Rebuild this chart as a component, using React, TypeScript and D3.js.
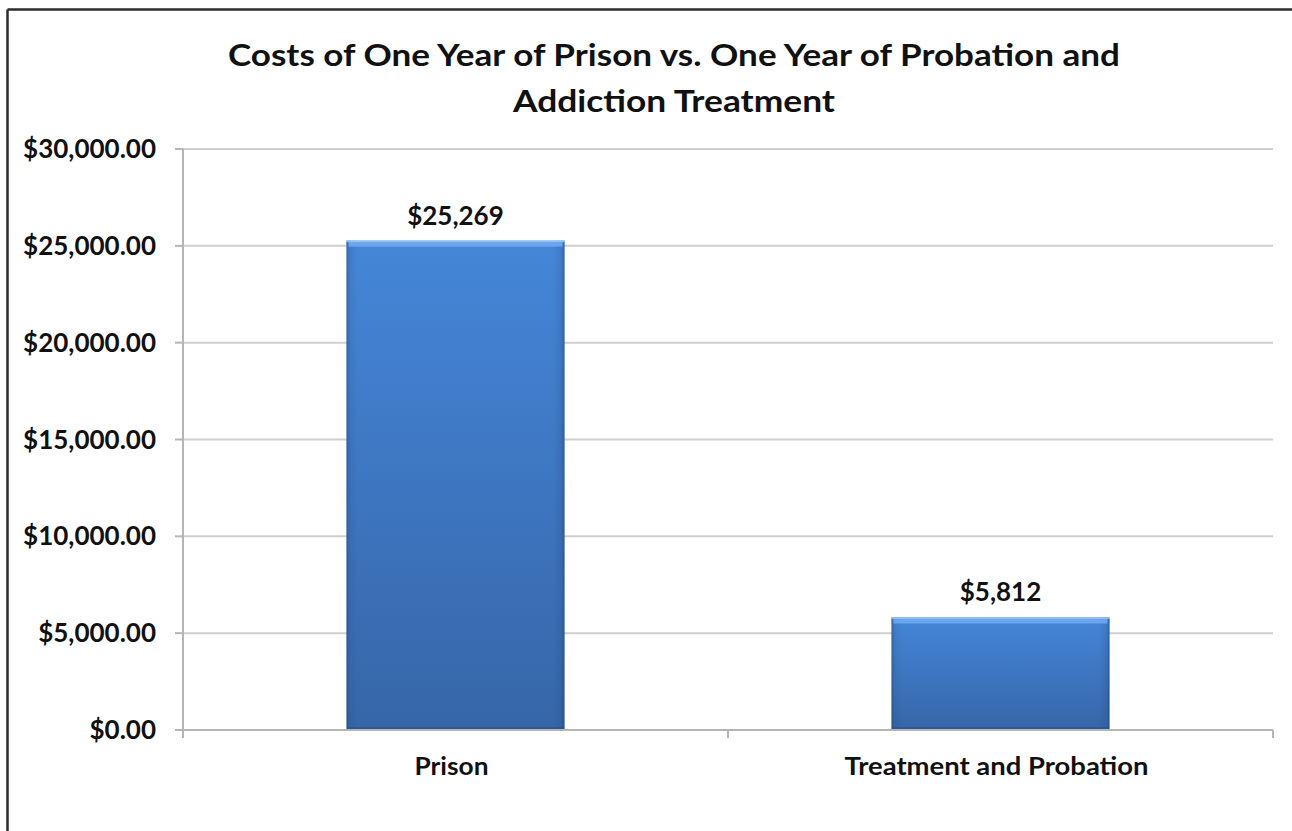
import React from "react";
import * as d3 from "d3";

const categories = ["Prison", "Treatment and Probation"];
const values = [25269, 5812];
const valueLabels = ["$25,269", "$5,812"];
const yTicks = [0, 5000, 10000, 15000, 20000, 25000, 30000];
const titleLines = [
  "Costs of One Year of Prison vs. One Year of Probation and",
  "Addiction Treatment",
];

const W = 1292;
const H = 831;
const left = 183;
const right = 1273;
const top = 149;
const bottom = 730;
const FONT = "Lato, 'Open Sans', 'DejaVu Sans', sans-serif";
const catWidths = [74, 304];

export default function App() {
  const x = d3
    .scaleBand<string>()
    .domain(categories)
    .range([left, right])
    .paddingInner(0.6)
    .paddingOuter(0.3);
  const y = d3.scaleLinear().domain([0, 30000]).range([bottom, top]);
  const fmt = d3.format("$,.2f");
  const step = x.step();
  const catBounds = d3.range(categories.length + 1).map((i) => left + i * step);

  return (
    <svg
      width={W}
      height={H}
      style={{ position: "absolute", left: 0, top: 0, display: "block", background: "#fff" }}
      fontFamily={FONT}
    >
      <defs>
        <linearGradient id="barV" x1="0" y1="0" x2="0" y2="1">
          <stop offset="0" stopColor="#4586d8" />
          <stop offset="1" stopColor="#3666a8" />
        </linearGradient>
        <linearGradient id="barH" x1="0" y1="0" x2="1" y2="0">
          <stop offset="0" stopColor="#1d3f70" stopOpacity="0.45" />
          <stop offset="0.015" stopColor="#1d3f70" stopOpacity="0.12" />
          <stop offset="0.05" stopColor="#1d3f70" stopOpacity="0" />
          <stop offset="0.95" stopColor="#1d3f70" stopOpacity="0" />
          <stop offset="0.985" stopColor="#1d3f70" stopOpacity="0.15" />
          <stop offset="1" stopColor="#1d3f70" stopOpacity="0.5" />
        </linearGradient>
      </defs>
      <rect x={0} y={0} width={W} height={H} fill="#fff" />
      {/* outer border (cropped at right/bottom) */}
      <line x1={7.5} x2={W} y1={9.5} y2={9.5} stroke="#2b2b2b" strokeWidth={2.5} />
      <line x1={7.5} x2={7.5} y1={9.5} y2={H} stroke="#2b2b2b" strokeWidth={2.5} />

      {/* title */}
      {titleLines.map((t, i) => (
        <text
          key={t}
          x={674}
          y={66 + i * 46}
          textAnchor="middle"
          fontSize={31}
          fontWeight={700}
          fill="#111"
          textLength={i === 0 ? 892 : 322}
          lengthAdjust="spacingAndGlyphs"
        >
          {t}
        </text>
      ))}

      {/* gridlines */}
      {yTicks.slice(1).map((t) => (
        <line key={t} x1={left} x2={right} y1={y(t)} y2={y(t)} stroke="#cfcfcf" strokeWidth={2} />
      ))}

      {/* y ticks + labels */}
      {yTicks.map((t) => (
        <g key={t}>
          <line x1={175} x2={left} y1={y(t)} y2={y(t)} stroke="#b5b5b5" strokeWidth={2} />
          <text x={156} y={y(t) + 9} textAnchor="end" fontSize={26} fontWeight={700} fill="#111">
            {fmt(t)}
          </text>
        </g>
      ))}

      {/* bars */}
      {categories.map((c, i) => {
        const bx = x(c)!;
        const bw = x.bandwidth();
        const by = y(values[i]);
        const bh = y(0) - by;
        return (
          <g key={c}>
            <rect x={bx} y={by} width={bw} height={bh} fill="url(#barV)" />
            <rect x={bx} y={by} width={bw} height={bh} fill="url(#barH)" />
            <rect x={bx + 2} y={by + 1} width={bw - 4} height={5} fill="#6eaaf0" opacity={0.9} />
            <rect x={bx} y={by} width={bw} height={1.5} fill="#8fc0f5" />
            <rect x={bx + 1} y={by + bh - 3} width={bw - 2} height={3} fill="#2b5590" opacity={0.8} />
            <text
              x={bx + bw / 2}
              y={by - 16}
              textAnchor="middle"
              fontSize={26}
              fontWeight={700}
              fill="#111"
            >
              {valueLabels[i]}
            </text>
          </g>
        );
      })}

      {/* x axis */}
      <line x1={left} x2={right} y1={bottom} y2={bottom} stroke="#b5b5b5" strokeWidth={2} />
      <line x1={left} x2={left} y1={top} y2={bottom + 8} stroke="#b5b5b5" strokeWidth={2} />
      {catBounds.slice(1).map((bx, i) => (
        <line key={i} x1={bx} x2={bx} y1={bottom} y2={bottom + 8} stroke="#b5b5b5" strokeWidth={2} />
      ))}
      {categories.map((c, i) => (
        <text
          key={c}
          x={x(c)! + x.bandwidth() / 2 - 4}
          y={775}
          textAnchor="middle"
          fontSize={24}
          fontWeight={700}
          fill="#111"
          textLength={catWidths[i]}
          lengthAdjust="spacingAndGlyphs"
        >
          {c}
        </text>
      ))}
    </svg>
  );
}
